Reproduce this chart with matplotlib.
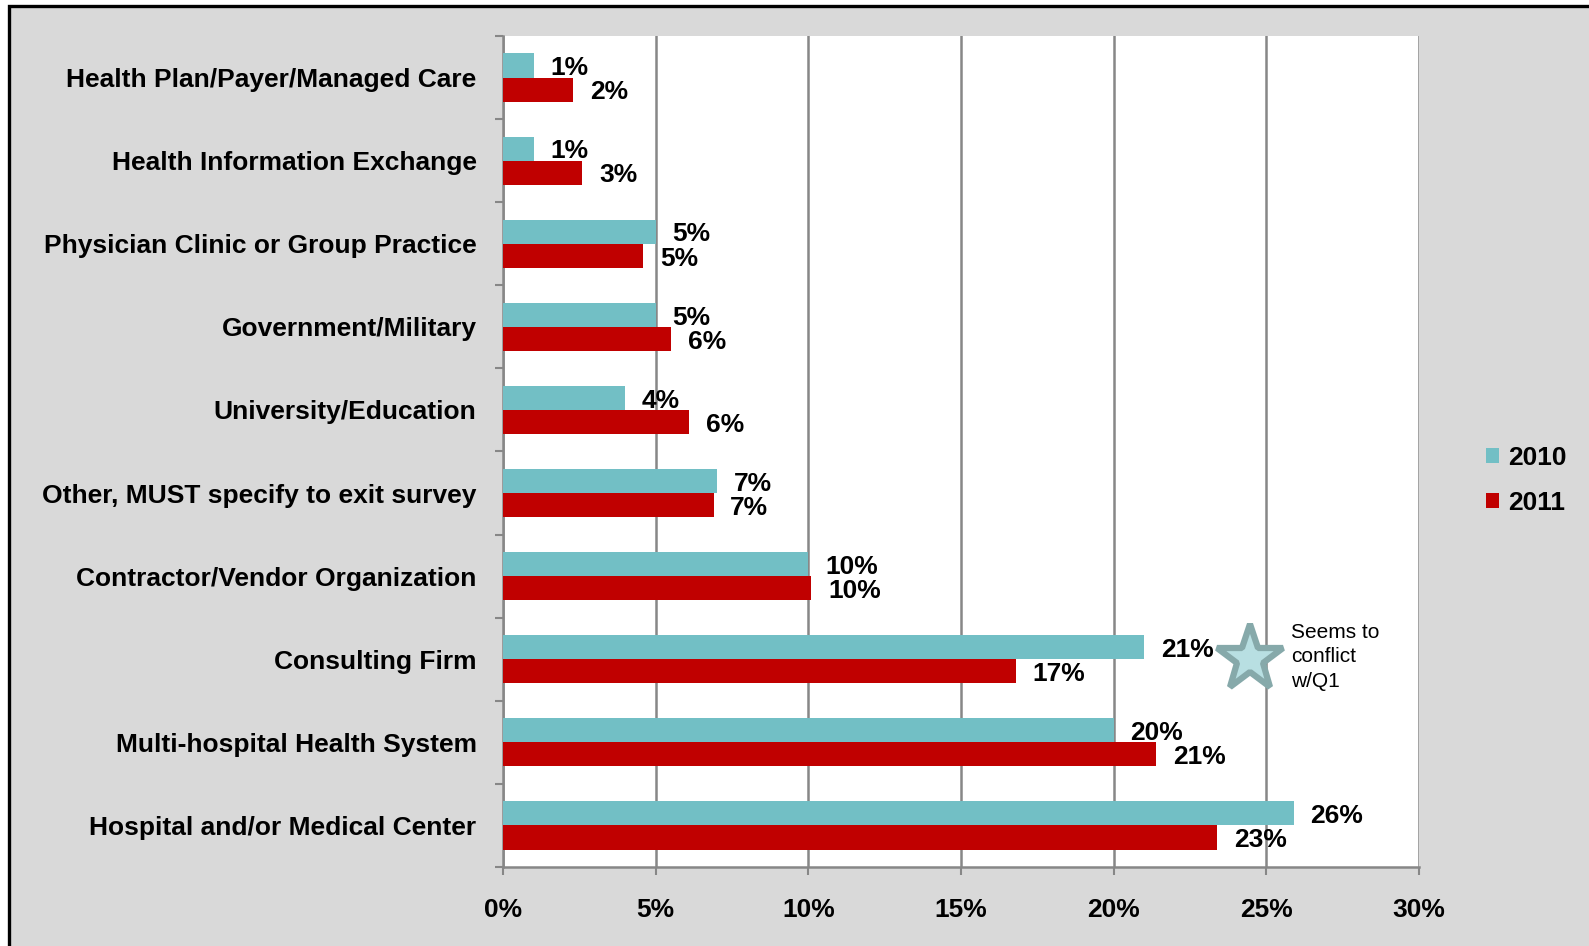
import numpy as np
import matplotlib
matplotlib.use("Agg")
import matplotlib.pyplot as plt
from matplotlib.patches import Rectangle
from matplotlib.ticker import FixedLocator, PercentFormatter

# categories listed bottom to top
categories = [
    "Hospital and/or Medical Center",
    "Multi-hospital Health System",
    "Consulting Firm",
    "Contractor/Vendor Organization",
    "Other, MUST specify to exit survey",
    "University/Education",
    "Government/Military",
    "Physician Clinic or Group Practice",
    "Health Information Exchange",
    "Health Plan/Payer/Managed Care",
]
share_2010 = [25.9, 20.0, 21.0, 10.0, 7.0, 4.0, 5.0, 5.0, 1.0, 1.0]
share_2011 = [23.4, 21.4, 16.8, 10.1, 6.9, 6.1, 5.5, 4.6, 2.6, 2.3]
x_ticks = [0, 5, 10, 15, 20, 25, 30]

CYAN = "#72bfc5"
RED = "#c00000"
BG = "#d9d9d9"
GRID = "#878787"

plt.rcParams['font.family'] = ['Liberation Sans', 'DejaVu Sans']
FS = 19

fig = plt.figure(figsize=(15.89, 9.46), dpi=100)
fig.patch.set_facecolor("white")
# grey panel with black frame (runs off the right and bottom edges)
fig.patches.append(Rectangle((9 / 1589, -0.05), 1.2, (946 - 6.5) / 946 + 0.05,
                             transform=fig.transFigure, facecolor=BG,
                             edgecolor="black", linewidth=2.4, zorder=-10))

ax = fig.add_axes([503 / 1589, 79 / 946, 916 / 1589, 831 / 946])
ax.set_facecolor("white")

y = np.arange(len(categories))
h = 0.29
ax.barh(y + h / 2, share_2010, height=h, color=CYAN, label="2010", zorder=3)
ax.barh(y - h / 2, share_2011, height=h, color=RED, label="2011", zorder=3)

for yi, v in zip(y, share_2010):
    ax.annotate(f"{v:.0f}%", (v, yi + h / 2), xytext=(12, -2), textcoords="offset points",
                va="center", ha="left", fontsize=FS, fontweight="bold")
for yi, v in zip(y, share_2011):
    ax.annotate(f"{v:.0f}%", (v, yi - h / 2), xytext=(12, -2), textcoords="offset points",
                va="center", ha="left", fontsize=FS, fontweight="bold")

ax.set_xlim(0, 30)
ax.set_ylim(-0.5, len(categories) - 0.5)
ax.set_xticks(x_ticks)
ax.xaxis.set_major_formatter(PercentFormatter(decimals=0))
ax.set_yticks(y)
ax.set_yticklabels(categories)
ax.yaxis.set_minor_locator(FixedLocator(np.arange(-0.5, len(categories), 1.0)))

ax.grid(axis="x", color=GRID, linewidth=1.8, zorder=0)
for s in ["top", "right"]:
    ax.spines[s].set_visible(False)
for s in ["left", "bottom"]:
    ax.spines[s].set_color(GRID)
    ax.spines[s].set_linewidth(1.8)

ax.tick_params(axis="y", which="major", length=0, pad=19, labelsize=FS)
ax.tick_params(axis="y", which="minor", length=6, width=1.5, color=GRID)
ax.tick_params(axis="x", which="major", length=6, width=1.5, color=GRID, pad=16, labelsize=FS)
for lab in ax.get_xticklabels() + ax.get_yticklabels():
    lab.set_fontweight("bold")

# note on consulting firm
ax.plot([24.45], [2.0], marker="*", markersize=50, markerfacecolor="#b8dfe2",
        markeredgecolor="#86a9aa", markeredgewidth=4.5, zorder=5, clip_on=False)
ax.text(25.8, 2.03, "Seems to\nconflict\nw/Q1", fontsize=15, va="center", ha="left",
        linespacing=1.38)

leg = ax.legend(loc="center left", bbox_to_anchor=(1.047, 0.465), frameon=False,
                prop={"weight": "bold", "size": FS}, handlelength=0.5, handleheight=0.5,
                handletextpad=0.35, labelspacing=0.8)

fig.savefig("out.png", dpi=100, facecolor=fig.get_facecolor())
